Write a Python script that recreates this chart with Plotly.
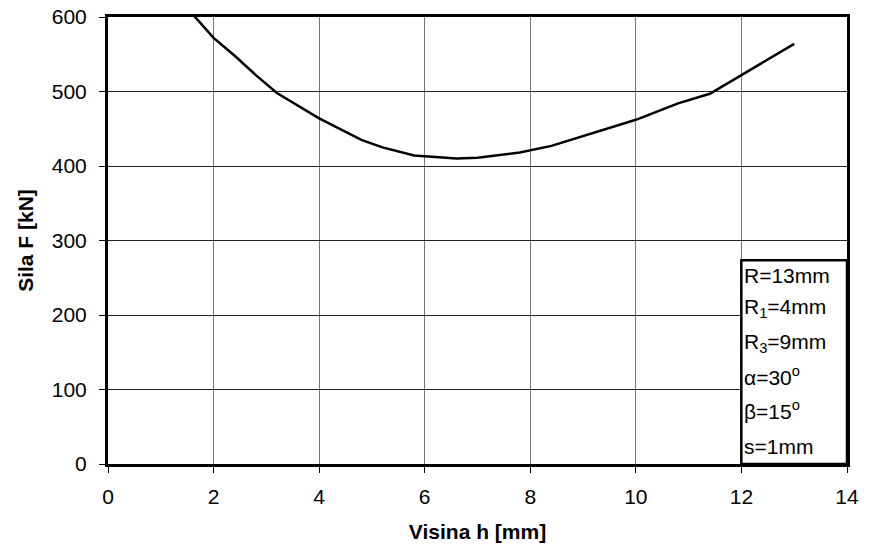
import plotly.graph_objects as go

h_mm = [1.6, 2.0, 2.4, 2.8, 3.2, 4.0, 4.8, 5.2, 5.8, 6.6, 7.0, 7.8, 8.4, 9.0, 10.0, 10.8, 11.4, 12.0, 13.0]
force_kN = [604, 572, 548, 522, 498, 464, 435, 425, 414, 410, 411, 418, 427, 440, 462, 484, 497, 522, 564]

x_ticks = [0, 2, 4, 6, 8, 10, 12, 14]
y_ticks = [0, 100, 200, 300, 400, 500, 600]

legend_lines = ["R=13mm", "R<sub>1</sub>=4mm", "R<sub>3</sub>=9mm",
                "α=30<sup>o</sup>", "β=15<sup>o</sup>", "s=1mm"]
legend_py = [275, 308, 343, 376, 410, 446]

font = "Liberation Sans, Arial, sans-serif"
FS = 21

fig = go.Figure()
fig.add_trace(go.Scatter(x=h_mm, y=force_kN, mode="lines",
                         line=dict(color="black", width=2.5), showlegend=False))

fig.add_shape(type="rect", xref="paper", yref="paper",
              x0=0.857, x1=1.0, y0=0.0, y1=0.456,
              line=dict(color="black", width=2.5), fillcolor="white", layer="above")
for txt, py in zip(legend_lines, legend_py):
    fig.add_annotation(x=0.858, xref="paper", y=(464 - py) / 447, yref="paper",
                       text=txt, showarrow=False, xanchor="left", yanchor="middle",
                       font=dict(family=font, size=FS, color="black"))

axis_common = dict(showline=True, linecolor="black", linewidth=3, mirror=True,
                   ticks="outside", ticklen=6, tickcolor="black", tickwidth=1,
                   tickfont=dict(family=font, size=FS, color="black"),
                   showgrid=True, zeroline=False, automargin=False)

fig.update_xaxes(range=[0, 14], tickvals=x_ticks, gridcolor="#777777", gridwidth=1,
                 ticklabelstandoff=6,
                 title=dict(text="<b>Visina h [mm]</b>", font=dict(family=font, size=FS, color="black"),
                            standoff=18),
                 **axis_common)
fig.update_yaxes(range=[0, 600], tickvals=y_ticks, gridcolor="#222222", gridwidth=1,
                 ticklabelstandoff=8,
                 title=dict(text="<b>Sila F [kN]</b>", font=dict(family=font, size=FS, color="black"),
                            standoff=13),
                 **axis_common)

fig.update_layout(width=872, height=548, margin=dict(l=108, r=25, t=17, b=84),
                  plot_bgcolor="white", paper_bgcolor="white")

fig.write_html("out.html")
